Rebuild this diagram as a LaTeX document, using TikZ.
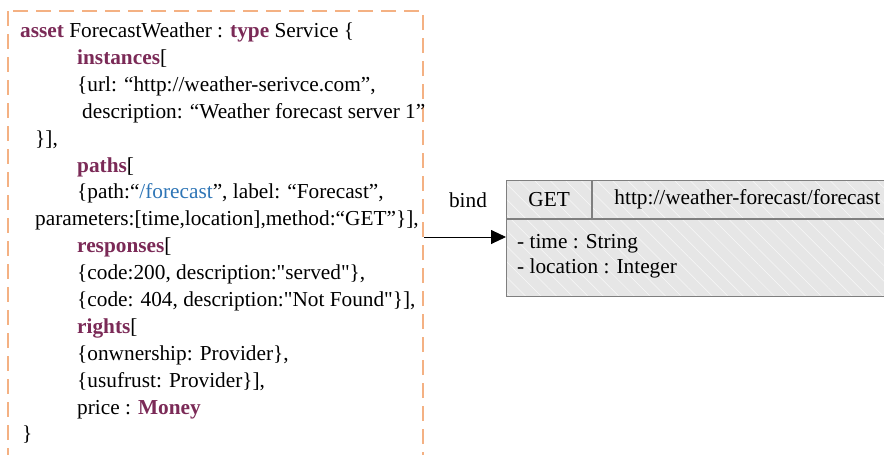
\documentclass[tikz,border=0pt]{standalone}
\usepackage{fontspec}
\newfontfamily\codefont{Liberation Serif}
\usetikzlibrary{arrows.meta,patterns.meta}
\definecolor{kwpurple}{HTML}{7B2A57}
\definecolor{pathblue}{HTML}{2E75B6}
\definecolor{frameorange}{HTML}{F4B183}
\definecolor{boxgray}{HTML}{7F7F7F}
\definecolor{boxfill}{HTML}{E6E6E6}
\newcommand{\kw}[1]{\textcolor{kwpurple}{\textbf{#1}}}

\begin{document}
\begin{tikzpicture}[x=1pt, y=-1pt, font=\codefont\fontsize{21.3}{25}\selectfont,
    code/.style={anchor=base west, inner sep=0pt},
    cell/.style={preaction={fill=boxfill}, pattern={Lines[angle=-45,distance=11pt,line width=0.5pt]},
        pattern color=white!70!boxfill, draw=boxgray, line width=1.2pt, inner sep=0pt}]
    \useasboundingbox (0,0) rectangle (884,455);

    % dashed frame round the asset text
    \draw[frameorange, line width=1.5pt, dash pattern=on 15pt off 8pt] (8,11) rectangle (423,480);

    \node[code] (l1) at (20,37) {\kw{asset} ForecastWeather : \kw{type} Service \{};
    \node[code] (l2) at (77,64) {\kw{instances}[};
    \node[code] (l3) at (77,91) {\{url: “http://weather-serivce.com”,};
    \node[code] (l4) at (82,118) {description: “Weather forecast server 1”};
    \node[code] (l5) at (35,145) {\}],};
    \node[code] (l6) at (77,172) {\kw{paths}[};
    \node[code] (l7) at (77,198) {\{path:“\textcolor{pathblue}{/forecast}”, label: “Forecast”,};
    \node[code] (l8) at (35,225) {parameters:[time,location],method:“GET”\}],};
    \node[code] (l9) at (77,252) {\kw{responses}[};
    \node[code] (l10) at (77,279) {\{code:200, description:"served"\},};
    \node[code] (l11) at (77,306) {\{code: 404, description:"Not Found"\}],};
    \node[code] (l12) at (77,333) {\kw{rights}[};
    \node[code] (l13) at (77,360) {\{onwnership: Provider\},};
    \node[code] (l14) at (77,387) {\{usufrust: Provider\}],};
    \node[code] (l15) at (77,414) {price : \kw{Money}};
    \node[code] (l16) at (22,440) {\}};

    % service endpoint box
    \node[cell, anchor=north west, minimum width=85pt, minimum height=38pt] (get) at (506,180) {GET};
    \node[cell, anchor=west, minimum width=309pt, minimum height=38pt] (url) at (get.east) {http://weather-forecast/forecast};
    \node[cell, anchor=north west, minimum width=394pt, minimum height=77pt] (params) at (get.south west) {};
    \node[code] (p1) at (517,248) {- time : String};
    \node[code] (p2) at (517,273) {- location : Integer};

    \node (bind) at (468,200) {bind};
    \coordinate (bindstart) at (424,237);
    \draw[-{Triangle[length=15pt,width=14pt]}, line width=0.9pt] (bindstart) -- (params.west |- bindstart);
\end{tikzpicture}
\end{document}
